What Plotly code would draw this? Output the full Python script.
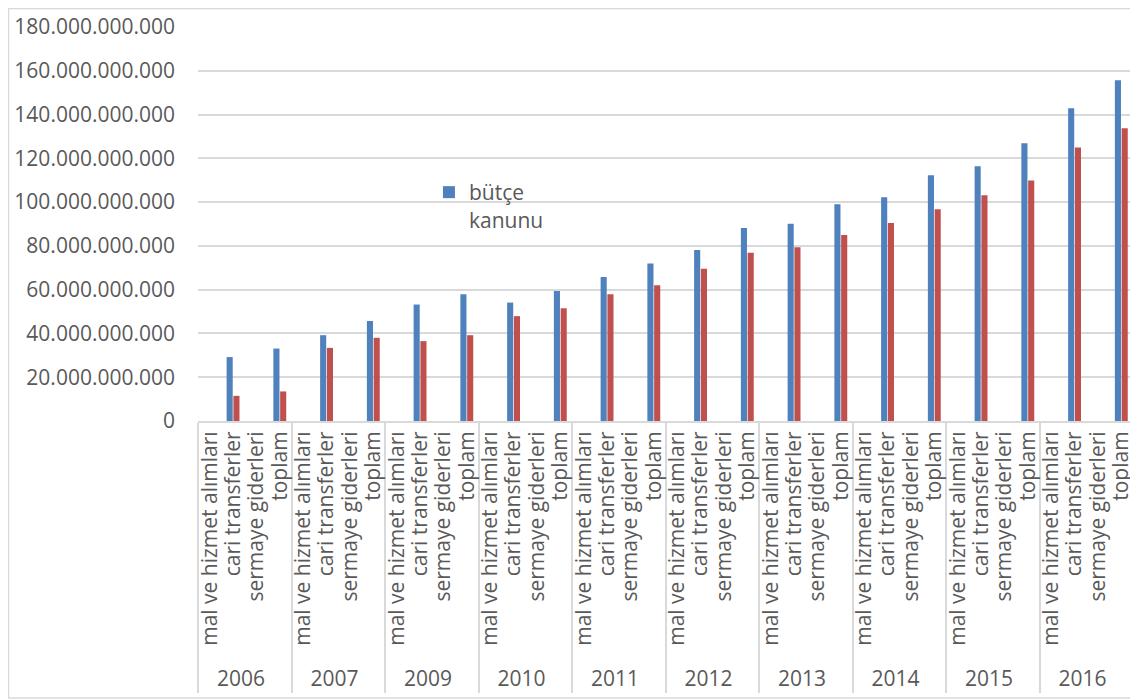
import plotly.graph_objects as go

years = ["2006", "2007", "2009", "2010", "2011", "2012", "2013", "2014", "2015", "2016"]
subcats = ["mal ve hizmet alımları", "cari transferler", "sermaye giderleri", "toplam"]

# values in billions (TL)
butce_cari = [29.2, 39.2, 53.2, 54.1, 65.8, 78.1, 90.1, 102.2, 116.4, 142.9]
butce_toplam = [33.1, 45.7, 57.9, 59.4, 71.9, 88.2, 99.0, 112.3, 126.9, 155.7]
ger_cari = [11.5, 33.4, 36.5, 47.9, 57.9, 69.5, 79.4, 90.4, 103.1, 125.0]
ger_toplam = [13.5, 38.0, 39.2, 51.5, 62.0, 76.9, 85.0, 96.7, 109.9, 133.8]

y_ticks = [0, 20e9, 40e9, 60e9, 80e9, 100e9, 120e9, 140e9, 160e9, 180e9]

lvl1, lvl2, yb, yr = [], [], [], []
for i, yr_ in enumerate(years):
    for s in subcats:
        lvl1.append(yr_)
        lvl2.append(s)
        if s == "cari transferler":
            yb.append(butce_cari[i] * 1e9)
            yr.append(ger_cari[i] * 1e9)
        elif s == "toplam":
            yb.append(butce_toplam[i] * 1e9)
            yr.append(ger_toplam[i] * 1e9)
        else:
            yb.append(None)
            yr.append(None)

gray = "#595959"
grid = "#D9D9D9"
font = "Open Sans"
n_cat = len(lvl1)

fig = go.Figure()
fig.add_trace(go.Bar(x=[lvl1, lvl2], y=yb, name="bütçe<br>kanunu",
                     marker=dict(color="#4F81BD", line=dict(width=0))))
fig.add_trace(go.Bar(x=[lvl1, lvl2], y=yr, name="gerçekleşme", showlegend=False,
                     marker=dict(color="#C0504D", line=dict(width=0))))

fig.update_layout(
    width=1130, height=692,
    margin=dict(l=190, r=5, t=19, b=279, autoexpand=False),
    paper_bgcolor="white", plot_bgcolor="white",
    separators=",.",
    barmode="group", bargap=0.42, bargroupgap=0.1,
    font=dict(family=font, size=21, color=gray),
    legend=dict(x=0.247, y=0.632, xanchor="left", yanchor="top",
                bgcolor="rgba(0,0,0,0)", font=dict(size=21, color=gray),
                valign="top", itemwidth=30),
    xaxis=dict(type="multicategory", tickangle=-90, showgrid=False,
               range=[-0.5, n_cat - 0.5], dtick=1,
               showline=True, linecolor=grid, linewidth=2,
               showdividers=True, dividercolor=grid, dividerwidth=2,
               ticks="", tickfont=dict(size=21, color=gray)),
    yaxis=dict(range=[0, 180e9], tickvals=y_ticks, tickformat=",.0f",
               showgrid=True, gridcolor=grid, gridwidth=2,
               zeroline=False, showline=False, ticklabelstandoff=22,
               tickfont=dict(size=21, color=gray)),
    shapes=[dict(type="rect", xref="paper", yref="paper",
                 x0=-0.2027, x1=1.0021, y0=-0.703, y1=1.047,
                 line=dict(color=grid, width=1.5), fillcolor="rgba(0,0,0,0)",
                 layer="below")],
)

fig.write_html("out.html")
